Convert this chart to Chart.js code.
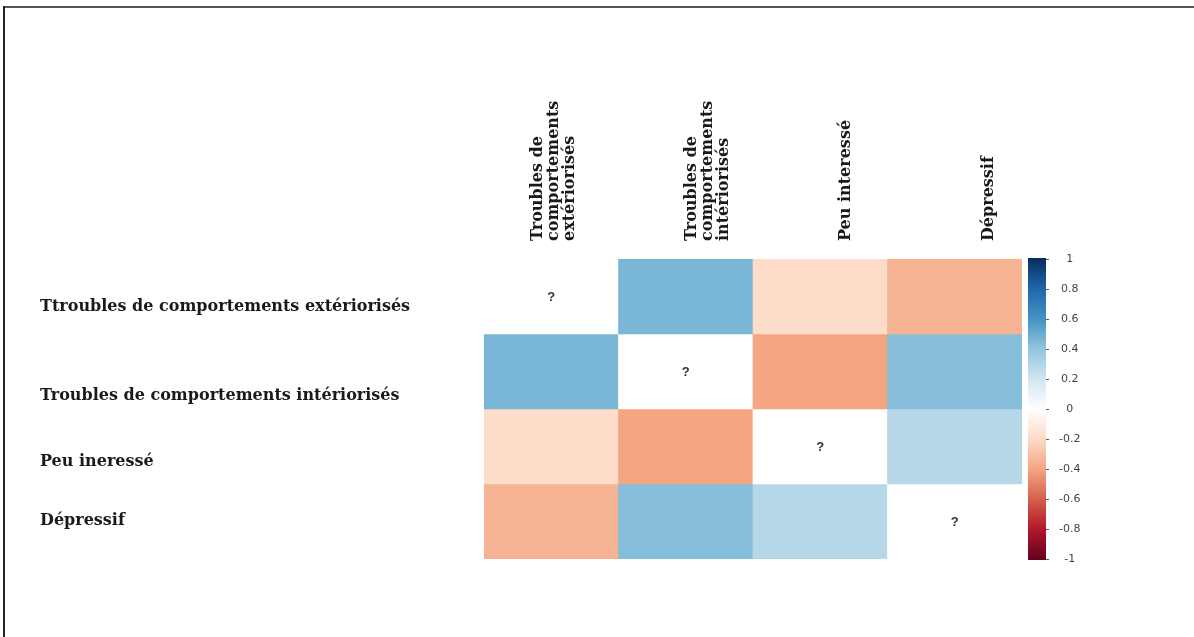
<!DOCTYPE html>
<html><head><meta charset="utf-8">
<script src="https://cdn.jsdelivr.net/npm/chart.js@4.4.0/dist/chart.umd.min.js"></script>
<style>
html,body{margin:0;padding:0;background:#fff;}
#wrap{position:relative;width:1194px;height:637px;overflow:hidden;background:#fff;}
#c{position:absolute;left:0;top:0;}
.bt{position:absolute;left:3px;top:6px;width:1191px;height:2px;background:#555;}
.bl{position:absolute;left:3px;top:6px;width:2px;height:631px;background:#222;}
</style></head><body>
<div id="wrap"><canvas id="c" width="1194" height="637"></canvas><div class="bt"></div><div class="bl"></div></div>
<script>
const colLabels = [["Troubles de","comportements","extériorisés"],["Troubles de","comportements","intériorisés"],["Peu interessé"],["Dépressif"]];
const rowLabels = ["Ttroubles de comportements extériorisés","Troubles de comportements intériorisés","Peu ineressé","Dépressif"];
const row0 = [null, 0.46, -0.19, -0.35];
const row1 = [0.46, null, -0.40, 0.43];
const row2 = [-0.19, -0.40, null, 0.29];
const row3 = [-0.35, 0.43, 0.29, null];
const diagMark = "?";
const cbValues = [1, 0.8, 0.6, 0.4, 0.2, 0, -0.2, -0.4, -0.6, -0.8, -1];
const cbLabels = ["1", "0.8", "0.6", "0.4", "0.2", "0", "-0.2", "-0.4", "-0.6", "-0.8", "-1"];
const palette = ["#67001F","#B2182B","#D6604D","#F4A582","#FDDBC7","#FFFFFF","#D1E5F0","#92C5DE","#4393C3","#2166AC","#053061"];

const matrix = [row0, row1, row2, row3];

function hexToRgb(h){ return [parseInt(h.slice(1,3),16), parseInt(h.slice(3,5),16), parseInt(h.slice(5,7),16)]; }
function colorFor(v){
  if (v === null) return '#FFFFFF';
  const t = (v + 1) / 2 * (palette.length - 1);
  const i = Math.min(Math.floor(t), palette.length - 2);
  const f = t - i;
  const a = hexToRgb(palette[i]), b = hexToRgb(palette[i+1]);
  const c = a.map((x, k) => Math.round(x + (b[k] - x) * f));
  return 'rgb(' + c.join(',') + ')';
}

// layout tweaks (positions only)
const rowLabelX = 40;
const rowLabelOffsets = [10, 24, 15, -1];
const colLabelOffsets = [3, 22, 26, 34];
const colLabelBaseY = 241;
const colLineGap = 16;

const overlay = {
  id: 'overlay',
  afterDatasetsDraw(chart) {
    const ctx = chart.ctx;
    const xs = chart.scales.x, ys = chart.scales.y, cb = chart.scales.y2;
    ctx.save();
    // diagonal marks
    ctx.fillStyle = '#333';
    ctx.font = 'bold 13px "Liberation Sans"';
    ctx.textAlign = 'center';
    ctx.textBaseline = 'middle';
    for (let i = 0; i < matrix.length; i++) {
      if (matrix[i][i] === null) {
        ctx.fillText(diagMark, xs.getPixelForValue(i), ys.getPixelForValue(i + 0.5) + 1);
      }
    }
    // row labels
    ctx.fillStyle = '#1a1a1a';
    ctx.font = 'bold 16px "DejaVu Serif"';
    ctx.textAlign = 'left';
    rowLabels.forEach((lab, r) => {
      ctx.fillText(lab, rowLabelX, ys.getPixelForValue(r + 0.5) + rowLabelOffsets[r]);
    });
    // column labels (rotated)
    colLabels.forEach((lines, c) => {
      const xc = xs.getPixelForValue(c) + colLabelOffsets[c];
      lines.forEach((ln, j) => {
        const lx = xc + (j - (lines.length - 1) / 2) * colLineGap;
        ctx.save();
        ctx.translate(lx, colLabelBaseY);
        ctx.rotate(-Math.PI / 2);
        ctx.textAlign = 'left';
        ctx.textBaseline = 'middle';
        ctx.fillText(ln, 0, 0);
        ctx.restore();
      });
    });
    // colour bar
    const top = cb.getPixelForValue(1), bot = cb.getPixelForValue(-1);
    const bx = cb.left + 6, bw = 18;
    const g = ctx.createLinearGradient(0, top, 0, bot);
    for (let k = 0; k < palette.length; k++) g.addColorStop(k / (palette.length - 1), palette[palette.length - 1 - k]);
    ctx.fillStyle = g;
    ctx.fillRect(bx, top - 1, bw, bot - top + 2);
    ctx.strokeStyle = '#555';
    ctx.lineWidth = 1;
    cbValues.forEach(v => {
      const y = Math.round(cb.getPixelForValue(v)) + 0.5;
      ctx.beginPath();
      ctx.moveTo(bx + bw, y);
      ctx.lineTo(bx + bw + 3, y);
      ctx.stroke();
    });
    ctx.restore();
  }
};

new Chart(document.getElementById('c'), {
  type: 'bar',
  data: {
    labels: colLabels.map(l => l.join(' ')),
    datasets: matrix.map((vals, r) => ({
      label: rowLabels[r],
      data: vals.map(() => [r, r + 1]),
      backgroundColor: vals.map(colorFor),
      borderWidth: 0,
      grouped: false,
      barPercentage: 1,
      categoryPercentage: 1
    }))
  },
  options: {
    responsive: false,
    animation: false,
    events: [],
    layout: { padding: { left: 484, top: 259, right: 0, bottom: 78 } },
    plugins: { legend: { display: false }, tooltip: { enabled: false } },
    scales: {
      x: { type: 'category', display: false, offset: true },
      y: { type: 'linear', min: 0, max: 4, reverse: true, display: false },
      y2: {
        type: 'linear', position: 'right', min: -1, max: 1,
        afterBuildTicks: s => { s.ticks = cbValues.map(v => ({ value: v })); },
        afterFit: s => { s.width = 172; },
        grid: { display: false, drawOnChartArea: false },
        border: { display: false },
        ticks: {
          callback: v => cbLabels[cbValues.indexOf(v)],
          font: { family: 'DejaVu Sans', size: 11 },
          color: '#444',
          crossAlign: 'center',
          padding: 29,
          autoSkip: false
        }
      }
    }
  },
  plugins: [overlay]
});
</script>
</body></html>
